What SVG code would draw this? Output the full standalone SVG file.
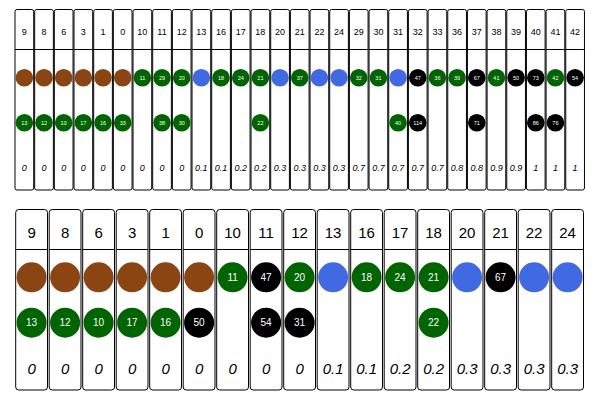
<svg xmlns="http://www.w3.org/2000/svg" width="600" height="400" viewBox="0 0 600 400">
<style>
rect.box{fill:#fff;stroke:#000;stroke-width:1}
line.div{stroke:#000;stroke-width:1}
text{font-family:"Liberation Sans",Arial,sans-serif;text-anchor:middle;fill:#000}
.t .h{font-size:9px}
.t .v{font-size:9px;font-style:italic}
.t .c{font-size:5.5px;fill:#fff}
.b .h{font-size:15px}
.b .v{font-size:15px;font-style:italic}
.b .c{font-size:10px;fill:#fff}
.br{fill:#8B4513}.gr{fill:#006400}.bl{fill:#4169E1}.bk{fill:#000}
</style>
<g class="t">
<g id="t9" transform="translate(15,9.5)"><rect class="box" width="18.7" height="180.5" rx="2"/><line class="div" x1="0" y1="40" x2="18.7" y2="40"/><text class="h" x="9.35" y="25.7">9</text><circle class="br" cx="9.35" cy="68.2" r="8.8"/><circle class="gr" cx="9.35" cy="113.2" r="8.8"/><text class="c" x="9.35" y="115.2">13</text><text class="v" x="9.35" y="161.5">0</text></g>
<g id="t8" transform="translate(34.67,9.5)"><rect class="box" width="18.7" height="180.5" rx="2"/><line class="div" x1="0" y1="40" x2="18.7" y2="40"/><text class="h" x="9.35" y="25.7">8</text><circle class="br" cx="9.35" cy="68.2" r="8.8"/><circle class="gr" cx="9.35" cy="113.2" r="8.8"/><text class="c" x="9.35" y="115.2">12</text><text class="v" x="9.35" y="161.5">0</text></g>
<g id="t6" transform="translate(54.34,9.5)"><rect class="box" width="18.7" height="180.5" rx="2"/><line class="div" x1="0" y1="40" x2="18.7" y2="40"/><text class="h" x="9.35" y="25.7">6</text><circle class="br" cx="9.35" cy="68.2" r="8.8"/><circle class="gr" cx="9.35" cy="113.2" r="8.8"/><text class="c" x="9.35" y="115.2">10</text><text class="v" x="9.35" y="161.5">0</text></g>
<g id="t3" transform="translate(74.01,9.5)"><rect class="box" width="18.7" height="180.5" rx="2"/><line class="div" x1="0" y1="40" x2="18.7" y2="40"/><text class="h" x="9.35" y="25.7">3</text><circle class="br" cx="9.35" cy="68.2" r="8.8"/><circle class="gr" cx="9.35" cy="113.2" r="8.8"/><text class="c" x="9.35" y="115.2">17</text><text class="v" x="9.35" y="161.5">0</text></g>
<g id="t1" transform="translate(93.68,9.5)"><rect class="box" width="18.7" height="180.5" rx="2"/><line class="div" x1="0" y1="40" x2="18.7" y2="40"/><text class="h" x="9.35" y="25.7">1</text><circle class="br" cx="9.35" cy="68.2" r="8.8"/><circle class="gr" cx="9.35" cy="113.2" r="8.8"/><text class="c" x="9.35" y="115.2">16</text><text class="v" x="9.35" y="161.5">0</text></g>
<g id="t0" transform="translate(113.35,9.5)"><rect class="box" width="18.7" height="180.5" rx="2"/><line class="div" x1="0" y1="40" x2="18.7" y2="40"/><text class="h" x="9.35" y="25.7">0</text><circle class="br" cx="9.35" cy="68.2" r="8.8"/><circle class="gr" cx="9.35" cy="113.2" r="8.8"/><text class="c" x="9.35" y="115.2">33</text><text class="v" x="9.35" y="161.5">0</text></g>
<g id="t10" transform="translate(133.02,9.5)"><rect class="box" width="18.7" height="180.5" rx="2"/><line class="div" x1="0" y1="40" x2="18.7" y2="40"/><text class="h" x="9.35" y="25.7">10</text><circle class="gr" cx="9.35" cy="68.2" r="8.8"/><text class="c" x="9.35" y="70.2">11</text><text class="v" x="9.35" y="161.5">0</text></g>
<g id="t11" transform="translate(152.69,9.5)"><rect class="box" width="18.7" height="180.5" rx="2"/><line class="div" x1="0" y1="40" x2="18.7" y2="40"/><text class="h" x="9.35" y="25.7">11</text><circle class="gr" cx="9.35" cy="68.2" r="8.8"/><text class="c" x="9.35" y="70.2">29</text><circle class="gr" cx="9.35" cy="113.2" r="8.8"/><text class="c" x="9.35" y="115.2">38</text><text class="v" x="9.35" y="161.5">0</text></g>
<g id="t12" transform="translate(172.36,9.5)"><rect class="box" width="18.7" height="180.5" rx="2"/><line class="div" x1="0" y1="40" x2="18.7" y2="40"/><text class="h" x="9.35" y="25.7">12</text><circle class="gr" cx="9.35" cy="68.2" r="8.8"/><text class="c" x="9.35" y="70.2">20</text><circle class="gr" cx="9.35" cy="113.2" r="8.8"/><text class="c" x="9.35" y="115.2">30</text><text class="v" x="9.35" y="161.5">0</text></g>
<g id="t13" transform="translate(192.03,9.5)"><rect class="box" width="18.7" height="180.5" rx="2"/><line class="div" x1="0" y1="40" x2="18.7" y2="40"/><text class="h" x="9.35" y="25.7">13</text><circle class="bl" cx="9.35" cy="68.2" r="8.8"/><text class="v" x="9.35" y="161.5">0.1</text></g>
<g id="t16" transform="translate(211.7,9.5)"><rect class="box" width="18.7" height="180.5" rx="2"/><line class="div" x1="0" y1="40" x2="18.7" y2="40"/><text class="h" x="9.35" y="25.7">16</text><circle class="gr" cx="9.35" cy="68.2" r="8.8"/><text class="c" x="9.35" y="70.2">18</text><text class="v" x="9.35" y="161.5">0.1</text></g>
<g id="t17" transform="translate(231.37,9.5)"><rect class="box" width="18.7" height="180.5" rx="2"/><line class="div" x1="0" y1="40" x2="18.7" y2="40"/><text class="h" x="9.35" y="25.7">17</text><circle class="gr" cx="9.35" cy="68.2" r="8.8"/><text class="c" x="9.35" y="70.2">24</text><text class="v" x="9.35" y="161.5">0.2</text></g>
<g id="t18" transform="translate(251.04,9.5)"><rect class="box" width="18.7" height="180.5" rx="2"/><line class="div" x1="0" y1="40" x2="18.7" y2="40"/><text class="h" x="9.35" y="25.7">18</text><circle class="gr" cx="9.35" cy="68.2" r="8.8"/><text class="c" x="9.35" y="70.2">21</text><circle class="gr" cx="9.35" cy="113.2" r="8.8"/><text class="c" x="9.35" y="115.2">22</text><text class="v" x="9.35" y="161.5">0.2</text></g>
<g id="t20" transform="translate(270.71,9.5)"><rect class="box" width="18.7" height="180.5" rx="2"/><line class="div" x1="0" y1="40" x2="18.7" y2="40"/><text class="h" x="9.35" y="25.7">20</text><circle class="bl" cx="9.35" cy="68.2" r="8.8"/><text class="v" x="9.35" y="161.5">0.3</text></g>
<g id="t21" transform="translate(290.38,9.5)"><rect class="box" width="18.7" height="180.5" rx="2"/><line class="div" x1="0" y1="40" x2="18.7" y2="40"/><text class="h" x="9.35" y="25.7">21</text><circle class="gr" cx="9.35" cy="68.2" r="8.8"/><text class="c" x="9.35" y="70.2">37</text><text class="v" x="9.35" y="161.5">0.3</text></g>
<g id="t22" transform="translate(310.05,9.5)"><rect class="box" width="18.7" height="180.5" rx="2"/><line class="div" x1="0" y1="40" x2="18.7" y2="40"/><text class="h" x="9.35" y="25.7">22</text><circle class="bl" cx="9.35" cy="68.2" r="8.8"/><text class="v" x="9.35" y="161.5">0.3</text></g>
<g id="t24" transform="translate(329.72,9.5)"><rect class="box" width="18.7" height="180.5" rx="2"/><line class="div" x1="0" y1="40" x2="18.7" y2="40"/><text class="h" x="9.35" y="25.7">24</text><circle class="bl" cx="9.35" cy="68.2" r="8.8"/><text class="v" x="9.35" y="161.5">0.3</text></g>
<g id="t29" transform="translate(349.39,9.5)"><rect class="box" width="18.7" height="180.5" rx="2"/><line class="div" x1="0" y1="40" x2="18.7" y2="40"/><text class="h" x="9.35" y="25.7">29</text><circle class="gr" cx="9.35" cy="68.2" r="8.8"/><text class="c" x="9.35" y="70.2">32</text><text class="v" x="9.35" y="161.5">0.7</text></g>
<g id="t30" transform="translate(369.06,9.5)"><rect class="box" width="18.7" height="180.5" rx="2"/><line class="div" x1="0" y1="40" x2="18.7" y2="40"/><text class="h" x="9.35" y="25.7">30</text><circle class="gr" cx="9.35" cy="68.2" r="8.8"/><text class="c" x="9.35" y="70.2">31</text><text class="v" x="9.35" y="161.5">0.7</text></g>
<g id="t31" transform="translate(388.73,9.5)"><rect class="box" width="18.7" height="180.5" rx="2"/><line class="div" x1="0" y1="40" x2="18.7" y2="40"/><text class="h" x="9.35" y="25.7">31</text><circle class="bl" cx="9.35" cy="68.2" r="8.8"/><circle class="gr" cx="9.35" cy="113.2" r="8.8"/><text class="c" x="9.35" y="115.2">40</text><text class="v" x="9.35" y="161.5">0.7</text></g>
<g id="t32" transform="translate(408.4,9.5)"><rect class="box" width="18.7" height="180.5" rx="2"/><line class="div" x1="0" y1="40" x2="18.7" y2="40"/><text class="h" x="9.35" y="25.7">32</text><circle class="bk" cx="9.35" cy="68.2" r="8.8"/><text class="c" x="9.35" y="70.2">47</text><circle class="bk" cx="9.35" cy="113.2" r="8.8"/><text class="c" x="9.35" y="115.2">114</text><text class="v" x="9.35" y="161.5">0.7</text></g>
<g id="t33" transform="translate(428.07,9.5)"><rect class="box" width="18.7" height="180.5" rx="2"/><line class="div" x1="0" y1="40" x2="18.7" y2="40"/><text class="h" x="9.35" y="25.7">33</text><circle class="gr" cx="9.35" cy="68.2" r="8.8"/><text class="c" x="9.35" y="70.2">36</text><text class="v" x="9.35" y="161.5">0.7</text></g>
<g id="t36" transform="translate(447.74,9.5)"><rect class="box" width="18.7" height="180.5" rx="2"/><line class="div" x1="0" y1="40" x2="18.7" y2="40"/><text class="h" x="9.35" y="25.7">36</text><circle class="gr" cx="9.35" cy="68.2" r="8.8"/><text class="c" x="9.35" y="70.2">39</text><text class="v" x="9.35" y="161.5">0.8</text></g>
<g id="t37" transform="translate(467.41,9.5)"><rect class="box" width="18.7" height="180.5" rx="2"/><line class="div" x1="0" y1="40" x2="18.7" y2="40"/><text class="h" x="9.35" y="25.7">37</text><circle class="bk" cx="9.35" cy="68.2" r="8.8"/><text class="c" x="9.35" y="70.2">67</text><circle class="bk" cx="9.35" cy="113.2" r="8.8"/><text class="c" x="9.35" y="115.2">71</text><text class="v" x="9.35" y="161.5">0.8</text></g>
<g id="t38" transform="translate(487.08,9.5)"><rect class="box" width="18.7" height="180.5" rx="2"/><line class="div" x1="0" y1="40" x2="18.7" y2="40"/><text class="h" x="9.35" y="25.7">38</text><circle class="gr" cx="9.35" cy="68.2" r="8.8"/><text class="c" x="9.35" y="70.2">41</text><text class="v" x="9.35" y="161.5">0.9</text></g>
<g id="t39" transform="translate(506.75,9.5)"><rect class="box" width="18.7" height="180.5" rx="2"/><line class="div" x1="0" y1="40" x2="18.7" y2="40"/><text class="h" x="9.35" y="25.7">39</text><circle class="bk" cx="9.35" cy="68.2" r="8.8"/><text class="c" x="9.35" y="70.2">50</text><text class="v" x="9.35" y="161.5">0.9</text></g>
<g id="t40" transform="translate(526.42,9.5)"><rect class="box" width="18.7" height="180.5" rx="2"/><line class="div" x1="0" y1="40" x2="18.7" y2="40"/><text class="h" x="9.35" y="25.7">40</text><circle class="bk" cx="9.35" cy="68.2" r="8.8"/><text class="c" x="9.35" y="70.2">73</text><circle class="bk" cx="9.35" cy="113.2" r="8.8"/><text class="c" x="9.35" y="115.2">86</text><text class="v" x="9.35" y="161.5">1</text></g>
<g id="t41" transform="translate(546.09,9.5)"><rect class="box" width="18.7" height="180.5" rx="2"/><line class="div" x1="0" y1="40" x2="18.7" y2="40"/><text class="h" x="9.35" y="25.7">41</text><circle class="gr" cx="9.35" cy="68.2" r="8.8"/><text class="c" x="9.35" y="70.2">42</text><circle class="bk" cx="9.35" cy="113.2" r="8.8"/><text class="c" x="9.35" y="115.2">76</text><text class="v" x="9.35" y="161.5">1</text></g>
<g id="t42" transform="translate(565.76,9.5)"><rect class="box" width="18.7" height="180.5" rx="2"/><line class="div" x1="0" y1="40" x2="18.7" y2="40"/><text class="h" x="9.35" y="25.7">42</text><circle class="bk" cx="9.35" cy="68.2" r="8.8"/><text class="c" x="9.35" y="70.2">54</text><text class="v" x="9.35" y="161.5">1</text></g>
</g>
<g class="b">
<g id="b9" transform="translate(15.7,209.5)"><rect class="box" width="31.8" height="180.5" rx="3"/><line class="div" x1="0" y1="40" x2="31.8" y2="40"/><text class="h" x="15.9" y="28.2">9</text><circle class="br" cx="15.9" cy="67.8" r="15"/><circle class="gr" cx="15.9" cy="113.2" r="15"/><text class="c" x="15.9" y="116.7">13</text><text class="v" x="15.9" y="164.2">0</text></g>
<g id="b8" transform="translate(49.2,209.5)"><rect class="box" width="31.8" height="180.5" rx="3"/><line class="div" x1="0" y1="40" x2="31.8" y2="40"/><text class="h" x="15.9" y="28.2">8</text><circle class="br" cx="15.9" cy="67.8" r="15"/><circle class="gr" cx="15.9" cy="113.2" r="15"/><text class="c" x="15.9" y="116.7">12</text><text class="v" x="15.9" y="164.2">0</text></g>
<g id="b6" transform="translate(82.7,209.5)"><rect class="box" width="31.8" height="180.5" rx="3"/><line class="div" x1="0" y1="40" x2="31.8" y2="40"/><text class="h" x="15.9" y="28.2">6</text><circle class="br" cx="15.9" cy="67.8" r="15"/><circle class="gr" cx="15.9" cy="113.2" r="15"/><text class="c" x="15.9" y="116.7">10</text><text class="v" x="15.9" y="164.2">0</text></g>
<g id="b3" transform="translate(116.2,209.5)"><rect class="box" width="31.8" height="180.5" rx="3"/><line class="div" x1="0" y1="40" x2="31.8" y2="40"/><text class="h" x="15.9" y="28.2">3</text><circle class="br" cx="15.9" cy="67.8" r="15"/><circle class="gr" cx="15.9" cy="113.2" r="15"/><text class="c" x="15.9" y="116.7">17</text><text class="v" x="15.9" y="164.2">0</text></g>
<g id="b1" transform="translate(149.7,209.5)"><rect class="box" width="31.8" height="180.5" rx="3"/><line class="div" x1="0" y1="40" x2="31.8" y2="40"/><text class="h" x="15.9" y="28.2">1</text><circle class="br" cx="15.9" cy="67.8" r="15"/><circle class="gr" cx="15.9" cy="113.2" r="15"/><text class="c" x="15.9" y="116.7">16</text><text class="v" x="15.9" y="164.2">0</text></g>
<g id="b0" transform="translate(183.2,209.5)"><rect class="box" width="31.8" height="180.5" rx="3"/><line class="div" x1="0" y1="40" x2="31.8" y2="40"/><text class="h" x="15.9" y="28.2">0</text><circle class="br" cx="15.9" cy="67.8" r="15"/><circle class="bk" cx="15.9" cy="113.2" r="15"/><text class="c" x="15.9" y="116.7">50</text><text class="v" x="15.9" y="164.2">0</text></g>
<g id="b10" transform="translate(216.7,209.5)"><rect class="box" width="31.8" height="180.5" rx="3"/><line class="div" x1="0" y1="40" x2="31.8" y2="40"/><text class="h" x="15.9" y="28.2">10</text><circle class="gr" cx="15.9" cy="67.8" r="15"/><text class="c" x="15.9" y="71.3">11</text><text class="v" x="15.9" y="164.2">0</text></g>
<g id="b11" transform="translate(250.2,209.5)"><rect class="box" width="31.8" height="180.5" rx="3"/><line class="div" x1="0" y1="40" x2="31.8" y2="40"/><text class="h" x="15.9" y="28.2">11</text><circle class="bk" cx="15.9" cy="67.8" r="15"/><text class="c" x="15.9" y="71.3">47</text><circle class="bk" cx="15.9" cy="113.2" r="15"/><text class="c" x="15.9" y="116.7">54</text><text class="v" x="15.9" y="164.2">0</text></g>
<g id="b12" transform="translate(283.7,209.5)"><rect class="box" width="31.8" height="180.5" rx="3"/><line class="div" x1="0" y1="40" x2="31.8" y2="40"/><text class="h" x="15.9" y="28.2">12</text><circle class="gr" cx="15.9" cy="67.8" r="15"/><text class="c" x="15.9" y="71.3">20</text><circle class="bk" cx="15.9" cy="113.2" r="15"/><text class="c" x="15.9" y="116.7">31</text><text class="v" x="15.9" y="164.2">0</text></g>
<g id="b13" transform="translate(317.2,209.5)"><rect class="box" width="31.8" height="180.5" rx="3"/><line class="div" x1="0" y1="40" x2="31.8" y2="40"/><text class="h" x="15.9" y="28.2">13</text><circle class="bl" cx="15.9" cy="67.8" r="15"/><text class="v" x="15.9" y="164.2">0.1</text></g>
<g id="b16" transform="translate(350.7,209.5)"><rect class="box" width="31.8" height="180.5" rx="3"/><line class="div" x1="0" y1="40" x2="31.8" y2="40"/><text class="h" x="15.9" y="28.2">16</text><circle class="gr" cx="15.9" cy="67.8" r="15"/><text class="c" x="15.9" y="71.3">18</text><text class="v" x="15.9" y="164.2">0.1</text></g>
<g id="b17" transform="translate(384.2,209.5)"><rect class="box" width="31.8" height="180.5" rx="3"/><line class="div" x1="0" y1="40" x2="31.8" y2="40"/><text class="h" x="15.9" y="28.2">17</text><circle class="gr" cx="15.9" cy="67.8" r="15"/><text class="c" x="15.9" y="71.3">24</text><text class="v" x="15.9" y="164.2">0.2</text></g>
<g id="b18" transform="translate(417.7,209.5)"><rect class="box" width="31.8" height="180.5" rx="3"/><line class="div" x1="0" y1="40" x2="31.8" y2="40"/><text class="h" x="15.9" y="28.2">18</text><circle class="gr" cx="15.9" cy="67.8" r="15"/><text class="c" x="15.9" y="71.3">21</text><circle class="gr" cx="15.9" cy="113.2" r="15"/><text class="c" x="15.9" y="116.7">22</text><text class="v" x="15.9" y="164.2">0.2</text></g>
<g id="b20" transform="translate(451.2,209.5)"><rect class="box" width="31.8" height="180.5" rx="3"/><line class="div" x1="0" y1="40" x2="31.8" y2="40"/><text class="h" x="15.9" y="28.2">20</text><circle class="bl" cx="15.9" cy="67.8" r="15"/><text class="v" x="15.9" y="164.2">0.3</text></g>
<g id="b21" transform="translate(484.7,209.5)"><rect class="box" width="31.8" height="180.5" rx="3"/><line class="div" x1="0" y1="40" x2="31.8" y2="40"/><text class="h" x="15.9" y="28.2">21</text><circle class="bk" cx="15.9" cy="67.8" r="15"/><text class="c" x="15.9" y="71.3">67</text><text class="v" x="15.9" y="164.2">0.3</text></g>
<g id="b22" transform="translate(518.2,209.5)"><rect class="box" width="31.8" height="180.5" rx="3"/><line class="div" x1="0" y1="40" x2="31.8" y2="40"/><text class="h" x="15.9" y="28.2">22</text><circle class="bl" cx="15.9" cy="67.8" r="15"/><text class="v" x="15.9" y="164.2">0.3</text></g>
<g id="b24" transform="translate(551.7,209.5)"><rect class="box" width="31.8" height="180.5" rx="3"/><line class="div" x1="0" y1="40" x2="31.8" y2="40"/><text class="h" x="15.9" y="28.2">24</text><circle class="bl" cx="15.9" cy="67.8" r="15"/><text class="v" x="15.9" y="164.2">0.3</text></g>
</g>
</svg>
